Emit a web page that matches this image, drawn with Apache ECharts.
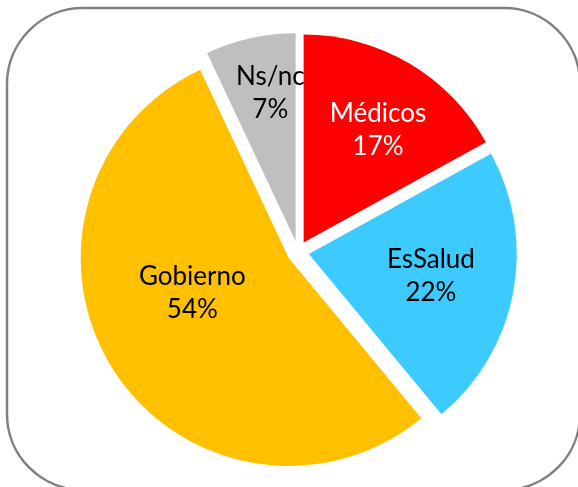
<!DOCTYPE html>
<html>
<head>
<meta charset="utf-8">
<script src="https://cdn.jsdelivr.net/npm/echarts@6/dist/echarts.min.js"></script>
<style>
html,body{margin:0;padding:0;background:#fff;}
#chart{width:578px;height:487px;}
</style>
</head>
<body>
<div id="chart"></div>
<script>
const categories = ['Médicos', 'EsSalud', 'Gobierno', 'Ns/nc'];
const values = [17, 22, 54, 7];
const colors = ['#FF0000', '#3DCBFF', '#FFC000', '#BFBFBF'];
const labelColors = ['#FFFFFF', '#000000', '#000000', '#000000'];
// label nudges (style only)
const labelDx = [20, 17, -6, -2];
const labelDy = [-20, 2, -22, -44];

const chart = echarts.init(document.getElementById('chart'), null, {renderer: 'canvas'});
chart.setOption({
  animation: false,
  graphic: [{
    type: 'rect',
    shape: {x: 7, y: 8, width: 573, height: 482, r: 76},
    style: {fill: 'none', stroke: '#808080', lineWidth: 2.5},
    z: -1
  }],
  series: [{
    type: 'pie',
    center: [298, 252],
    radius: [0, 208],
    startAngle: 90,
    clockwise: true,
    selectedMode: 'multiple',
    selectedOffset: 11,
    emphasis: {disabled: true},
    avoidLabelOverlap: false,
    label: {
      show: true,
      position: 'inside',
      fontFamily: 'Lato',
      fontSize: 26,
      lineHeight: 33,
      formatter: p => p.name + '\n' + p.value + '%'
    },
    labelLine: {show: false},
    labelLayout: function (params) {
      const i = params.dataIndex;
      return {dx: labelDx[i], dy: labelDy[i]};
    },
    data: categories.map((c, i) => ({
      name: c,
      value: values[i],
      selected: true,
      itemStyle: {color: colors[i]},
      label: {color: labelColors[i]}
    }))
  }]
});
</script>
</body>
</html>
